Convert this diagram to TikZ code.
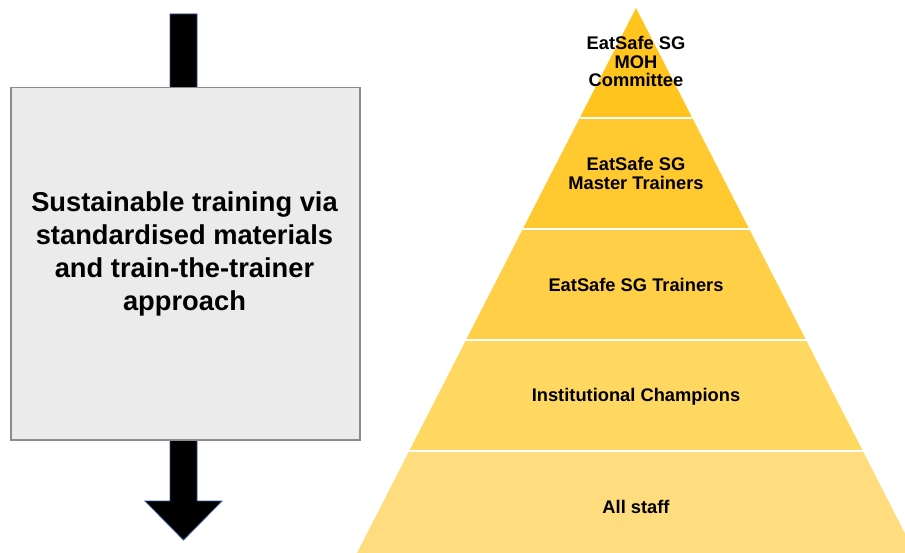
\documentclass[tikz,border=0pt]{standalone}
\usepackage{fontspec}
\setmainfont{Liberation Sans}
\definecolor{boxgray}{HTML}{EBEBEB}
\definecolor{boxline}{HTML}{8C8C8C}
\definecolor{arrowline}{HTML}{2F528F}
\definecolor{tierA}{HTML}{FFC41E}
\definecolor{tierB}{HTML}{FFC92F}
\definecolor{tierC}{HTML}{FFD047}
\definecolor{tierD}{HTML}{FFD862}
\definecolor{tierE}{HTML}{FFDD7F}
\tikzset{
  tierlabel/.style={align=center, font=\bfseries\fontsize{18.3}{18.6}\selectfont},
  sep/.style={white, line width=2pt}
}
\begin{document}
\begin{tikzpicture}[x=1pt, y=-1pt]
    \useasboundingbox (0,0) rectangle (905,553);

    % Draw the arrow (behind the box)
    \draw[fill=black, draw=arrowline, line width=0.8pt]
        (170,14) -- (197,14) -- (197,501) -- (222,501) -- (183.5,540)
        -- (145,501) -- (170,501) -- cycle;

    % Box with the text
    \node[draw=boxline, line width=1.5pt, fill=boxgray, minimum width=349pt, minimum height=352pt,
          anchor=north west, inner sep=0pt] (textbox) at (10,87) {};
    \node[align=center, font=\bfseries\fontsize{27.3}{33}\selectfont] (boxtext) at (184.5,253.5)
        {Sustainable training via\\standardised materials\\and train-the-trainer\\approach};

    % Pyramid
    \begin{scope}
        \clip (0,0) rectangle (905,553);
        \fill[tierA] (636,8) -- (692.3,118) -- (579.7,118) -- cycle;
        \fill[tierB] (579.7,118) -- (692.3,118) -- (749.2,229) -- (522.8,229) -- cycle;
        \fill[tierC] (522.8,229) -- (749.2,229) -- (806,340) -- (466,340) -- cycle;
        \fill[tierD] (466,340) -- (806,340) -- (862.8,451) -- (409.2,451) -- cycle;
        \fill[tierE] (409.2,451) -- (862.8,451) -- (915,553) -- (357,553) -- cycle;
        % white lines between the tiers
        \draw[sep] (579.7,118) -- (692.3,118);
        \draw[sep] (522.8,229) -- (749.2,229);
        \draw[sep] (466,340) -- (806,340);
        \draw[sep] (409.2,451) -- (862.8,451);
    \end{scope}

    % Tier labels
    \node[tierlabel] (moh) at (636,61.5) {EatSafe SG\\MOH\\Committee};
    \node[tierlabel] (master) at (636,173.5) {EatSafe SG\\Master Trainers};
    \node[tierlabel] (trainers) at (636,285) {EatSafe SG Trainers};
    \node[tierlabel] (champions) at (636,396.5) {Institutional Champions};
    \node[tierlabel] (staff) at (636,507) {All staff};
\end{tikzpicture}
\end{document}
